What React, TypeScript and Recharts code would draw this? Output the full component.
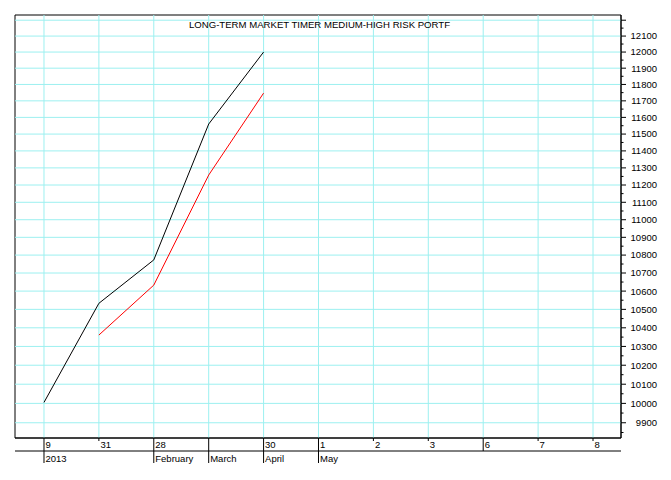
import React from 'react';
import { LineChart, Line, XAxis, YAxis, ReferenceLine, ReferenceArea } from 'recharts';

// x positions are trading days; labels
const dayLabels = ['9', '31', '28', '', '30', '1', '2', '3', '6', '7', '8'];
const monthTicks = [0, 2, 3, 4, 5];
const monthLabels = ['2013', 'February', 'March', 'April', 'May'];
const fullTickDays = [0, 2, 3, 4, 5, 8];

const portfolio = [10005, 10533, 10773, 11560, 12000, null, null, null, null, null, null];
const benchmark = [null, 10361, 10633, 11258, 11747, null, null, null, null, null, null];

const gridValues = [9900, 10000, 10100, 10200, 10300, 10400, 10500, 10600, 10700, 10800, 10900, 11000,
  11100, 11200, 11300, 11400, 11500, 11600, 11700, 11800, 11900, 12000, 12100, 12200];
const yTicks = [9850, 9900, 9950, 10000, 10050, 10100, 10150, 10200, 10250, 10300, 10350, 10400, 10450,
  10500, 10550, 10600, 10650, 10700, 10750, 10800, 10850, 10900, 10950, 11000, 11050, 11100, 11150,
  11200, 11250, 11300, 11350, 11400, 11450, 11500, 11550, 11600, 11650, 11700, 11750, 11800, 11850,
  11900, 11950, 12000, 12050, 12100, 12150, 12200];

const X_DOMAIN: [number, number] = [-0.528, 10.51];
const Y_DOMAIN: [number, number] = [9822, 12233];
const FONT = '"Liberation Sans", Arial, sans-serif';
const GRID = '#9cf0f0';

const rows = dayLabels.map((label, i) => ({
  idx: i,
  label,
  portfolio: portfolio[i],
  benchmark: benchmark[i],
}));

const DayTick = (props: any) => {
  const { x, y, payload } = props;
  const i = payload.value as number;
  const full = fullTickDays.includes(i);
  return (
    <g>
      <line x1={x} x2={x} y1={y} y2={full ? y + 13 : y + 3} stroke="#000" />
      <text x={x + 1.5} y={y + 9.8} fontSize={9.5} fontFamily={FONT} fill="#000" textAnchor="start">
        {dayLabels[i]}
      </text>
    </g>
  );
};

const MonthTick = (props: any) => {
  const { x, y, payload } = props;
  const k = monthTicks.indexOf(payload.value as number);
  return (
    <g>
      <line x1={x} x2={x} y1={y} y2={y + 12} stroke="#000" />
      <text x={x + 1.5} y={y + 11.4} fontSize={9.5} fontFamily={FONT} fill="#000" textAnchor="start">
        {monthLabels[k]}
      </text>
    </g>
  );
};

const ValueTick = (props: any) => {
  const { x, y, payload } = props;
  const v = payload.value as number;
  const major = v % 100 === 0;
  return (
    <g>
      <line x1={x} x2={x + (major ? 5 : 2.5)} y1={y} y2={y} stroke="#000" />
      {major && v !== 12200 && (
        <text x={x + 36} y={y + 3.4} fontSize={9.5} fontFamily={FONT} fill="#000" textAnchor="end">
          {v}
        </text>
      )}
    </g>
  );
};

export default function App() {
  return (
    <div style={{ position: 'relative', width: 671, height: 480, background: '#fff' }}>
      <style>{'body{margin:0}'}</style>
      <LineChart width={671} height={480} data={rows} margin={{ top: 15, right: 0, bottom: 0, left: 15 }}>
        <XAxis
          xAxisId="d"
          type="number"
          dataKey="idx"
          domain={X_DOMAIN}
          allowDataOverflow
          ticks={[0, 1, 2, 3, 4, 5, 6, 7, 8, 9, 10]}
          height={13}
          tickSize={0}
          tickMargin={0}
          tickLine={false}
          axisLine={{ stroke: '#000' }}
          tick={DayTick}
          interval={0}
        />
        <XAxis
          xAxisId="m"
          type="number"
          dataKey="idx"
          domain={X_DOMAIN}
          allowDataOverflow
          ticks={monthTicks}
          height={29}
          tickSize={0}
          tickMargin={0}
          tickLine={false}
          axisLine={{ stroke: '#000' }}
          tick={MonthTick}
          interval={0}
        />
        <YAxis
          orientation="right"
          scale="log"
          domain={Y_DOMAIN}
          allowDataOverflow
          ticks={yTicks}
          width={50}
          tickSize={0}
          tickMargin={0}
          tickLine={false}
          axisLine={{ stroke: '#000' }}
          tick={ValueTick}
          interval={0}
        />
        {gridValues.map((v) => (
          <ReferenceLine key={'h' + v} xAxisId="d" y={v} stroke={GRID} strokeWidth={1} />
        ))}
        {rows.map((r) => (
          <ReferenceLine key={'v' + r.idx} xAxisId="d" x={r.idx} stroke={GRID} strokeWidth={1} />
        ))}
        <ReferenceArea
          xAxisId="d"
          x1={X_DOMAIN[0]}
          x2={X_DOMAIN[1]}
          y1={Y_DOMAIN[0]}
          y2={Y_DOMAIN[1]}
          fill="none"
          fillOpacity={0}
          stroke="#000"
          strokeWidth={1}
          ifOverflow="visible"
        />
        <Line xAxisId="d" dataKey="portfolio" stroke="#000" strokeWidth={1} dot={false} isAnimationActive={false} />
        <Line xAxisId="d" dataKey="benchmark" stroke="#ff0000" strokeWidth={1} dot={false} isAnimationActive={false} />
      </LineChart>
      <svg width={671} height={40} style={{ position: 'absolute', left: 0, top: 0, pointerEvents: 'none' }}>
        <text
          x={319.5}
          y={28.3}
          fontSize={9.5}
          fontFamily={FONT}
          textAnchor="middle"
          textLength={261}
          lengthAdjust="spacingAndGlyphs"
          fill="#000"
        >
          LONG-TERM MARKET TIMER MEDIUM-HIGH RISK PORTF
        </text>
      </svg>
    </div>
  );
}
